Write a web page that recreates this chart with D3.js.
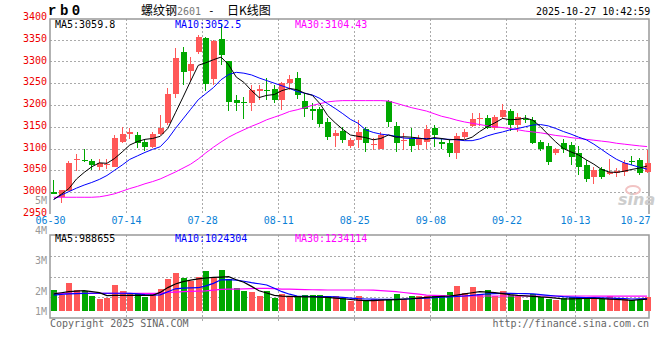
<!DOCTYPE html>
<html><head><meta charset="utf-8">
<script src="https://cdn.jsdelivr.net/npm/d3@7/dist/d3.min.js"></script>
<style>body{margin:0;background:#fff}svg{display:block}</style>
</head><body><svg id="c" width="660" height="360"></svg>
<script>
// ---- data ----
const opens  = [2999,2988,3003,3074,3074,3072,3058,3061,3058,3116,3133,3131,3116,3104,3133,3158,3225,3321,3277,3322,3353,3259,3352,3300,3211,3207,3205,3233,3234,3236,3211,3250,3262,3208,3190,3190,3161,3129,3141,3106,3120,3144,3109,3100,3210,3152,3117,3123,3108,3116,3146,3114,3112,3090,3127,3152,3168,3169,3146,3172,3185,3154,3168,3166,3116,3106,3089,3112,3108,3089,3062,3034,3052,3041,3043,3046,3072,3074,3047];
const highs  = [3028,3005,3072,3087,3098,3077,3075,3075,3131,3150,3146,3137,3121,3137,3177,3238,3330,3334,3310,3360,3355,3350,3385,3302,3223,3219,3245,3246,3261,3246,3253,3269,3275,3227,3205,3196,3170,3143,3150,3125,3166,3150,3123,3139,3212,3162,3135,3146,3131,3154,3154,3123,3121,3135,3144,3181,3181,3177,3177,3202,3190,3181,3177,3173,3120,3113,3101,3121,3116,3106,3074,3057,3057,3075,3056,3074,3083,3078,3097];
const lows   = [2995,2975,3003,3049,3068,3050,3050,3052,3058,3112,3121,3102,3095,3102,3131,3154,3215,3246,3254,3318,3231,3246,3292,3185,3185,3168,3185,3212,3212,3204,3189,3235,3213,3173,3166,3150,3120,3104,3112,3102,3101,3093,3097,3098,3150,3093,3097,3093,3097,3100,3104,3100,3081,3075,3121,3149,3152,3144,3142,3167,3141,3139,3158,3110,3094,3062,3085,3089,3062,3039,3024,3018,3029,3039,3035,3037,3062,3039,3043];
const closes = [2996,3005,3067,3076,3073,3061,3066,3064,3123,3133,3139,3112,3104,3133,3146,3225,3309,3275,3294,3357,3248,3348,3315,3206,3204,3204,3235,3236,3231,3212,3251,3259,3223,3190,3187,3156,3126,3135,3120,3120,3139,3112,3111,3131,3160,3113,3119,3106,3123,3144,3131,3110,3090,3129,3139,3167,3170,3146,3173,3188,3154,3173,3166,3113,3098,3070,3098,3100,3081,3058,3031,3051,3034,3047,3049,3067,3070,3044,3067];
const ma5    = [2983,2995,3008,3030,3045,3058,3067,3066,3077,3092,3108,3116,3121,3123,3128,3146,3182,3218,3255,3291,3297,3304,3310,3292,3264,3252,3233,3217,3222,3224,3233,3238,3235,3227,3222,3203,3176,3159,3144,3131,3128,3125,3120,3123,3131,3126,3127,3126,3124,3121,3125,3123,3120,3121,3120,3126,3139,3150,3159,3169,3166,3167,3170,3165,3150,3132,3115,3100,3092,3085,3074,3064,3052,3046,3045,3048,3052,3055,3059.8];
const ma10   = [2983,2993,3001,3009,3016,3022,3029,3038,3050,3062,3075,3083,3091,3098,3104,3122,3146,3168,3190,3212,3226,3240,3258,3270,3275,3273,3269,3262,3256,3250,3244,3238,3231,3227,3223,3215,3203,3192,3180,3167,3158,3143,3137,3133,3131,3128,3124,3123,3123,3123,3123,3122,3121,3120,3118,3118,3122,3129,3134,3138,3143,3146,3150,3154,3155,3152,3146,3139,3133,3126,3120,3110,3098,3086,3075,3067,3062,3057,3052.5];
const ma30   = [2988,2988,2988,2988,2988,2988,2989,2992,2996,3002,3008,3013,3019,3024,3030,3038,3046,3055,3064,3076,3090,3103,3115,3126,3135,3143,3151,3158,3166,3172,3178,3185,3189,3194,3199,3203,3207,3209,3210,3210,3210,3210,3210,3210,3209,3204,3199,3194,3190,3186,3180,3174,3170,3165,3161,3158,3155,3152,3150,3148,3146,3143,3140,3138,3136,3133,3130,3128,3125,3123,3121,3119,3117,3115,3112,3110,3108,3106,3104.43];
// volume in thousand lots
const volumes = [1750,1333,2358,1750,1667,1250,1000,1108,2167,1667,1417,1475,1192,1525,1833,2667,3192,2750,2500,2833,3333,2725,3417,2642,1917,1692,1583,1275,1667,1108,1417,1250,1250,1308,1358,1333,1275,1250,1108,833,1250,833,1025,975,975,1417,975,1250,1250,1250,1250,1308,1583,2083,1475,1975,1417,1750,1250,1642,1308,1250,917,1417,1192,1000,917,1108,1150,1142,1000,1000,1000,1270,980,980,917,950,1190];
const vma5  = [1420,1520,1610,1660,1690,1620,1530,1280,1300,1310,1300,1310,1300,1310,1550,1950,2250,2450,2580,2680,2750,2800,2830,2860,2600,2400,2050,1690,1500,1300,1240,1220,1200,1180,1170,1160,1140,1080,1020,960,900,860,870,900,920,950,990,1020,1070,1130,1180,1220,1250,1330,1420,1520,1610,1580,1530,1450,1360,1300,1260,1220,1170,1140,1070,1000,1010,1025,1040,1060,1030,990,975,930,890,940,988.655];
const vma10 = [1330,1380,1420,1450,1470,1480,1480,1480,1480,1480,1470,1420,1360,1330,1350,1600,1850,1900,1920,1940,2100,2300,2600,2620,2580,2480,2360,2270,2170,1900,1610,1400,1250,1230,1210,1200,1190,1170,1140,1080,1030,1000,990,980,975,975,990,1020,1050,1080,1110,1150,1180,1210,1250,1310,1370,1420,1450,1470,1475,1460,1440,1420,1370,1310,1250,1190,1160,1140,1120,1110,1090,1070,1060,1040,1000,1010,1024.304];
const vma30 = [1475,1475,1475,1475,1475,1475,1475,1475,1475,1475,1475,1475,1475,1475,1475,1550,1580,1610,1630,1650,1670,1740,1800,1820,1830,1850,1870,1880,1890,1860,1830,1820,1800,1780,1770,1760,1750,1750,1750,1750,1750,1750,1740,1700,1650,1610,1540,1475,1400,1330,1310,1290,1270,1260,1250,1250,1250,1250,1250,1250,1250,1250,1250,1250,1250,1250,1250,1250,1250,1250,1250,1240,1240,1240,1240,1240,1240,1240,1234.114];
const tickIdx    = [0,10,20,30,40,50,60,69,79];
const tickLabels = ["06-30","07-14","07-28","08-11","08-25","09-08","09-22","10-13","10-27"];
const priceTicks = [2950,3000,3050,3100,3150,3200,3250,3300,3350,3400];
const priceGrid  = [3000,3050,3100,3150,3200,3250,3300,3350];
const volTickVals = [1,2,3,4,5];
const volTickLabels = ["1M","2M","3M","4M","5M"];

// ---- layout ----
const RED = "#ff5858", GREEN = "#00a800", MONO = "'DejaVu Sans Mono', monospace";
const svg = d3.select("#c");
svg.append("rect").attr("width",660).attr("height",360).attr("fill","#fff");
const L = 50, R = 649, pTop = 19, pBot = 214, vTop = 235, vBot = 318;
const x = d3.scaleLinear().domain([0,79]).range([50,651]);
const cx = i => x(i) + 3.2;
const y = d3.scaleLinear().domain([2950,3400]).range([213.8,17.9]);
const yv = d3.scaleLinear().domain([0,4000]).range([311,263]);
const yvGrid = d3.scaleLinear().domain([0,4]).range([vBot, vTop]);
const yvLab = d3.scaleLinear().domain([2,5]).range([291,200]);
const n = closes.length, idx = d3.range(n);

// grid
const grid = svg.append("g").attr("stroke","#aaa").attr("stroke-dasharray","2,2").attr("stroke-width",1).attr("shape-rendering","crispEdges");
grid.selectAll(".hp").data(priceGrid).join("line")
  .attr("x1",L).attr("x2",R).attr("y1",d=>Math.round(y(d))+0.5).attr("y2",d=>Math.round(y(d))+0.5);
grid.selectAll(".hv").data([1,2,3]).join("line").attr("class","hv")
  .attr("x1",L).attr("x2",R).attr("y1",d=>Math.round(yvGrid(d))+0.5).attr("y2",d=>Math.round(yvGrid(d))+0.5);
const vIdx = tickIdx.slice(1,-1);
grid.selectAll(".vp").data(vIdx).join("line").attr("class","vp")
  .attr("x1",d=>Math.round(x(d))+0.5).attr("x2",d=>Math.round(x(d))+0.5).attr("y1",pTop).attr("y2",pBot);
grid.selectAll(".vv").data(vIdx).join("line").attr("class","vv")
  .attr("x1",d=>Math.round(x(d))+0.5).attr("x2",d=>Math.round(x(d))+0.5).attr("y1",vTop).attr("y2",321);

// frames
svg.append("path").attr("d",`M${L},${pBot}V${pTop}H${R}V${pBot}`).attr("fill","none").attr("stroke","#999").attr("stroke-width",1.5);
svg.append("rect").attr("x",L).attr("y",vTop).attr("width",R-L).attr("height",vBot-vTop).attr("fill","none").attr("stroke","#999").attr("stroke-width",1.5);

// candles
const cg = svg.append("g").attr("shape-rendering","crispEdges");
const col = i => closes[i] >= opens[i] ? RED : GREEN;
cg.selectAll(".w").data(idx).join("line")
  .attr("x1",i=>Math.round(cx(i))+0.5).attr("x2",i=>Math.round(cx(i))+0.5)
  .attr("y1",i=>y(highs[i])).attr("y2",i=>y(lows[i])).attr("stroke",col);
cg.selectAll(".b").data(idx).join("rect")
  .attr("x",i=>Math.round(cx(i))-2.5).attr("width",6)
  .attr("y",i=>y(Math.max(opens[i],closes[i])))
  .attr("height",i=>Math.max(1.2,Math.abs(y(opens[i])-y(closes[i]))))
  .attr("fill",col);

// volume bars
cg.selectAll(".v").data(idx).join("rect")
  .attr("x",i=>Math.round(cx(i))-2.5).attr("width",6)
  .attr("y",i=>yv(volumes[i])).attr("height",i=>yv(0)-yv(volumes[i]))
  .attr("fill",col);

// MA lines
const lp = d3.line().x((d,i)=>cx(i)+0.5).y(d=>y(d));
const lv = d3.line().x((d,i)=>cx(i)+0.5).y(d=>yv(d));
[[ma30,"#ff00ff"],[ma10,"#0000ff"],[ma5,"#000"]].forEach(([a,c])=>
  svg.append("path").attr("d",lp(a)).attr("fill","none").attr("stroke",c).attr("stroke-width",1));
[[vma30,"#ff00ff"],[vma10,"#0000ff"],[vma5,"#000"]].forEach(([a,c])=>
  svg.append("path").attr("d",lv(a)).attr("fill","none").attr("stroke",c).attr("stroke-width",1.2));

// axes
const ya = svg.append("g").attr("transform",`translate(${L},-1.5)`)
  .call(d3.axisLeft(y).tickValues(priceTicks).tickSize(0).tickPadding(3).tickFormat(d3.format("d")));
ya.select(".domain").remove();
ya.selectAll("text").attr("fill","#ee0000").style("font",`10px ${MONO}`);

const xa = svg.append("g").attr("transform",`translate(0,${pBot})`)
  .call(d3.axisBottom(x).tickValues(tickIdx).tickSize(0).tickPadding(3).tickFormat((d,i)=>tickLabels[i]));
xa.select(".domain").remove();
xa.selectAll("text").attr("fill","#0a7fd6").style("font",`10px ${MONO}`);
xa.selectAll(".tick").filter(d=>d===79).select("text").attr("text-anchor","end").attr("x",-1);

svg.append("g").selectAll("text").data(volTickVals).join("text")
  .attr("x",47).attr("y",d=>Math.min(yvLab(d),311)).attr("dy","0.35em")
  .attr("text-anchor","end").attr("fill","#999").style("font",`10px ${MONO}`)
  .text((d,i)=>volTickLabels[i]);

// legends
const T = (t,xx,yy,c,extra) => svg.append("text").attr("x",xx).attr("y",yy).attr("fill",c).style("font",extra||`10px ${MONO}`).text(t);
T("MA5:"+ma5[n-1].toFixed(1),55,28,"#000");
T("MA10:"+ma10[n-1].toFixed(1),175,28,"#0000ff");
T("MA30:"+ma30[n-1].toFixed(2),295,28,"#ff00ff");
T("MA5:"+Math.round(vma5[n-1]*1000),55,242,"#000");
T("MA10:"+Math.round(vma10[n-1]*1000),175,242,"#0000ff");
T("MA30:"+Math.round(vma30[n-1]*1000),295,242,"#ff00ff");

// titles
svg.append("text").attr("x",48).attr("y",15).attr("fill","#000")
  .style("font","bold 14px 'Liberation Mono', monospace").style("letter-spacing","3.5px").text("rb0");
T("螺纹钢",141,15,"#000","12px 'Noto Sans CJK SC'");
T("2601",177,15,"#777",`10px ${MONO}`);
T("-",208,14,"#000",`11px ${MONO}`);
T("日K线图",227,15,"#000","12px 'Noto Sans CJK SC'");
T("2025-10-27 10:42:59",536,15,"#000",`10px ${MONO}`);
T("Copyright 2025 SINA.COM",50,327,"#666",`10px ${MONO}`);
svg.append("text").attr("x",649).attr("y",327).attr("text-anchor","end").attr("fill","#666")
  .style("font",`10px ${MONO}`).text("http://finance.sina.com.cn");
// watermark
svg.append("ellipse").attr("cx",633).attr("cy",190).attr("rx",7).attr("ry",4).attr("fill","none").attr("stroke","#f2c4c4").attr("stroke-width",2);
svg.append("text").attr("x",618).attr("y",205).attr("fill","#cdcdcd")
  .style("font","italic bold 16px 'DejaVu Sans'").text("sina");
</script></body></html>
